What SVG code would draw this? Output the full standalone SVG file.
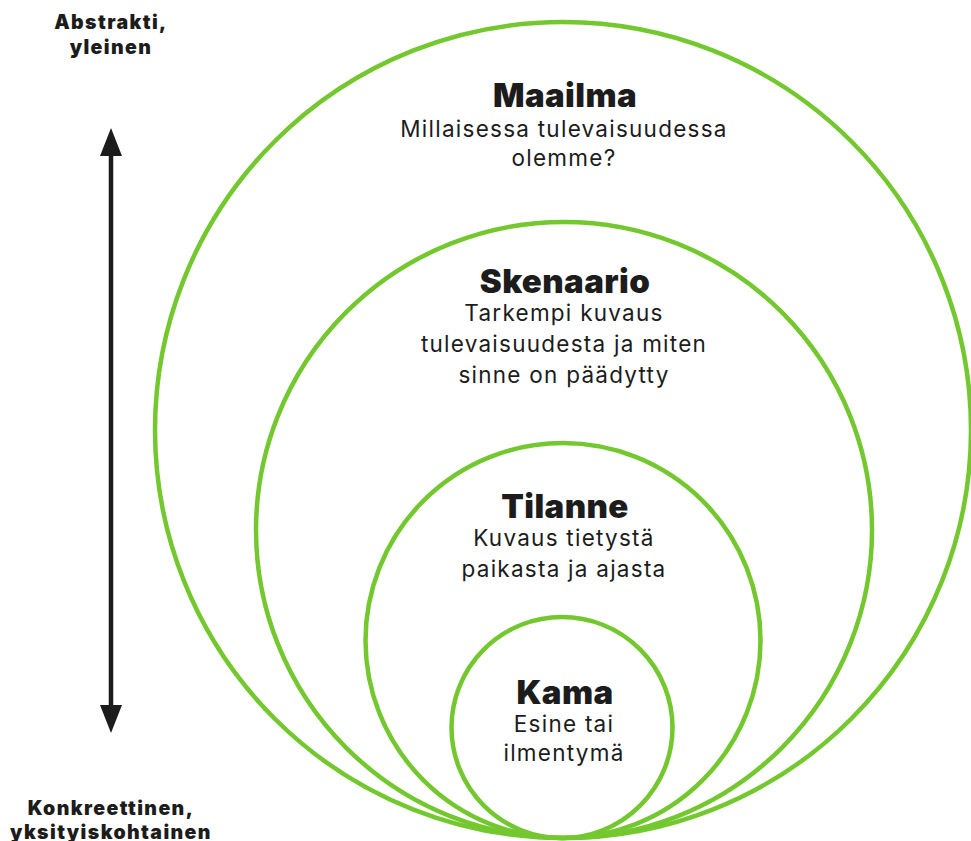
<svg xmlns="http://www.w3.org/2000/svg" width="971" height="841" viewBox="0 0 971 841">
<defs>
<style>
.ring{fill:none;stroke:#74c82f;stroke-width:4.5}
.t{font-family:Inter,"Liberation Sans",sans-serif;font-weight:900;fill:#1c1c1c;text-anchor:middle}
.h{font-size:33px;letter-spacing:0.4px}
.b{font-family:Inter,"Liberation Sans",sans-serif;font-weight:400;font-size:22.5px;letter-spacing:1.25px;fill:#1c1c1c;text-anchor:middle}
.s{font-size:19.5px;letter-spacing:1.4px}
</style>
<marker id="ah" markerWidth="6.2" markerHeight="4.9" refX="0" refY="2.45" orient="auto-start-reverse" markerUnits="strokeWidth" viewBox="0 0 6.2 4.9"><path d="M0 0 L6.2 2.45 L0 4.9 Z" fill="#1c1c1c"/></marker>
</defs>
<rect width="971" height="841" fill="#fff"/>
<g id="maailma">
<circle class="ring" cx="563" cy="430" r="408"/>
<text class="t h" x="565" y="107">Maailma</text>
<text class="b" x="564" y="137">Millaisessa tulevaisuudessa</text>
<text class="b" x="564" y="166">olemme?</text>
</g>
<g id="skenaario">
<circle class="ring" cx="564" cy="530" r="308"/>
<text class="t h" x="565" y="293">Skenaario</text>
<text class="b" x="564" y="321">Tarkempi kuvaus</text>
<text class="b" x="564" y="352">tulevaisuudesta ja miten</text>
<text class="b" x="564" y="383">sinne on päädytty</text>
</g>
<g id="tilanne">
<circle class="ring" cx="563" cy="640.5" r="197.5"/>
<text class="t h" x="565" y="518">Tilanne</text>
<text class="b" x="564" y="546">Kuvaus tietystä</text>
<text class="b" x="564" y="577">paikasta ja ajasta</text>
</g>
<g id="kama">
<circle class="ring" cx="562" cy="727.5" r="110.5"/>
<text class="t h" x="565" y="704">Kama</text>
<text class="b" x="564" y="732">Esine tai</text>
<text class="b" x="564" y="761">ilmentymä</text>
</g>
<g id="abstrakti">
<text class="t s" x="111" y="29">Abstrakti,</text>
<text class="t s" x="111" y="54">yleinen</text>
</g>
<g id="konkreettinen">
<text class="t s" x="111" y="815">Konkreettinen,</text>
<text class="t s" x="111" y="839">yksityiskohtainen</text>
</g>
<g id="connectors">
<line x1="111" y1="156" x2="111" y2="705" stroke="#1c1c1c" stroke-width="4.5" marker-start="url(#ah)" marker-end="url(#ah)"/>
</g>
</svg>
